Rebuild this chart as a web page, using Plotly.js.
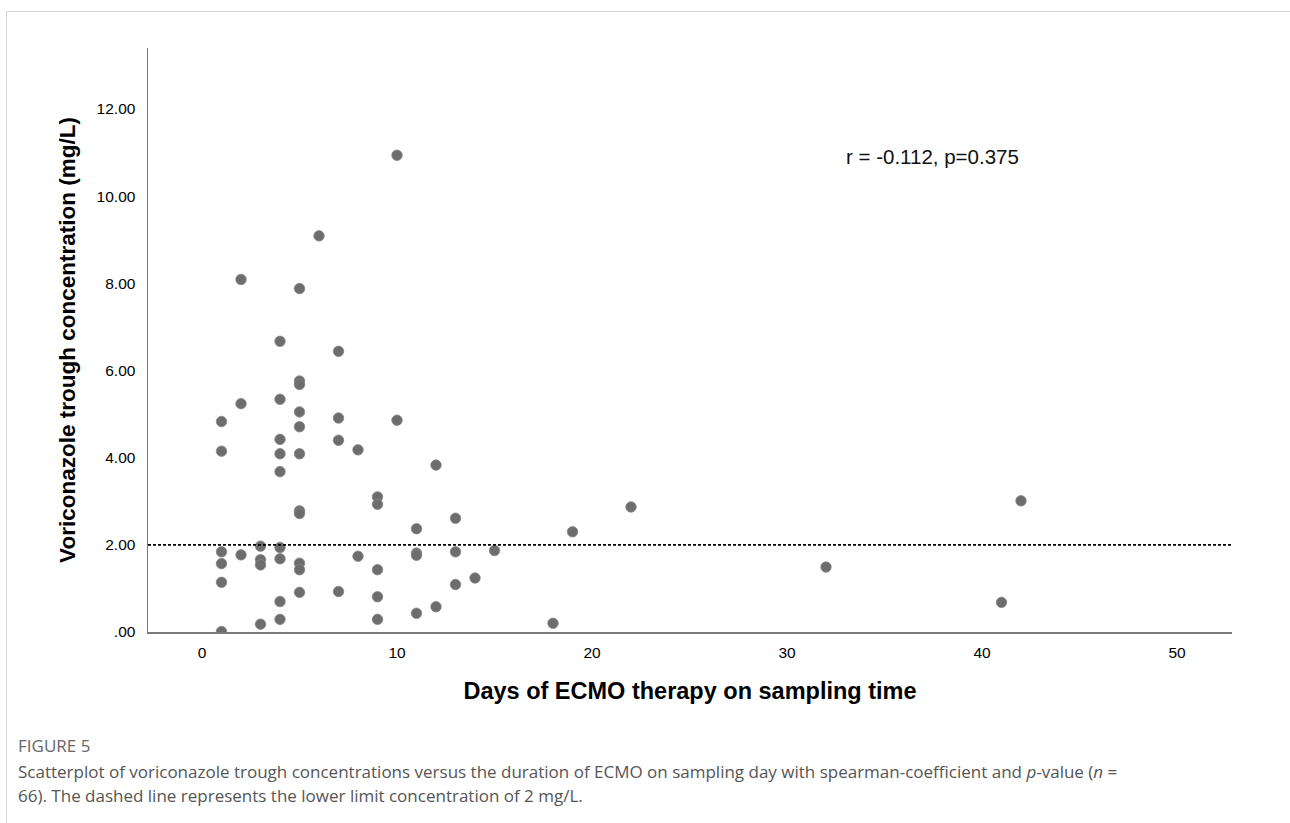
<!DOCTYPE html>
<html>
<head>
<meta charset="utf-8">
<script src="https://cdn.plot.ly/plotly-3.0.1.min.js"></script>
<style>
  html, body { margin: 0; padding: 0; background: #fff; }
  #frame { position: absolute; left: 6px; top: 11px; width: 1290px; height: 820px;
           border-top: 1.5px solid #d6d6d6; border-left: 1.5px solid #d6d6d6; }
  #chart { position: absolute; left: 0; top: 0; width: 1290px; height: 823px; }
</style>
</head>
<body>
<div id="frame"></div>
<div id="chart"></div>
<script>
// Days of ECMO therapy on sampling day
const days = [
  1, 1, 1, 1, 1, 1,
  2, 2, 2,
  3, 3, 3, 3,
  4, 4, 4, 4, 4, 4, 4, 4, 4,
  5, 5, 5, 5, 5, 5, 5, 5, 5, 5, 5,
  6,
  7, 7, 7, 7,
  8, 8,
  9, 9, 9, 9, 9,
  10, 10,
  11, 11, 11, 11,
  12, 12,
  13, 13, 13,
  14, 15, 18, 19, 22, 32, 41, 42
];
// Voriconazole trough concentration (mg/L)
const conc = [
  4.83, 4.15, 1.84, 1.57, 1.14, 0.01,
  8.09, 5.24, 1.77,
  1.97, 1.66, 1.54, 0.18,
  6.67, 5.34, 4.42, 4.09, 3.68, 1.94, 1.68, 0.70, 0.29,
  7.88, 5.76, 5.68, 5.05, 4.71, 4.09, 2.78, 2.72, 1.58, 1.43, 0.91,
  9.09,
  6.44, 4.91, 4.40, 0.93,
  4.18, 1.74,
  3.10, 2.93, 1.43, 0.81, 0.29,
  10.94, 4.86,
  2.37, 1.81, 1.76, 0.43,
  3.83, 0.58,
  2.61, 1.84, 1.09,
  1.24, 1.87, 0.20, 2.30, 2.87, 1.49, 0.68, 3.01
];
const xTickVals = [0, 10, 20, 30, 40, 50];
const yTickVals = [0, 2, 4, 6, 8, 10, 12];
const yTickText = [".00", "2.00", "4.00", "6.00", "8.00", "10.00", "12.00"];
const lowerLimit = 2;
const statText = "r = -0.112, p=0.375";
const figLabel = "FIGURE 5";
const caption1 = "Scatterplot of voriconazole trough concentrations versus the duration of ECMO on sampling day with spearman-coefficient and <i>p</i>-value (<i>n</i> =";
const caption2 = "66). The dashed line represents the lower limit concentration of 2 mg/L.";

const trace = {
  type: "scatter",
  mode: "markers",
  x: days,
  y: conc,
  marker: { color: "#6d6d6d", size: 10.5, line: { color: "#858585", width: 0.8 } },
  hoverinfo: "x+y",
  showlegend: false
};

const capX = -0.1218;
const layout = {
  width: 1290,
  height: 823,
  paper_bgcolor: "rgba(0,0,0,0)",
  plot_bgcolor: "rgba(0,0,0,0)",
  margin: { l: 148, r: 58, t: 48, b: 191 },
  font: { family: "Liberation Sans, Arial, sans-serif", color: "#111" },
  xaxis: {
    range: [-2.77, 52.82],
    tickvals: xTickVals,
    ticks: "",
    showgrid: false,
    zeroline: false,
    showline: true,
    linecolor: "#7a7a7a",
    linewidth: 1.5,
    tickfont: { size: 15.5, color: "#000" },
    ticklabelstandoff: 6,
    title: { text: "<b>Days of ECMO therapy on sampling time</b>", font: { size: 23.5, color: "#000" }, standoff: 22 },
    automargin: false
  },
  yaxis: {
    range: [0, 13.4],
    tickvals: yTickVals,
    ticktext: yTickText,
    ticks: "",
    showgrid: false,
    zeroline: false,
    showline: true,
    linecolor: "#7a7a7a",
    linewidth: 1.5,
    tickfont: { size: 15.5, color: "#000" },
    ticklabelstandoff: 8,
    title: { text: "<b>Voriconazole trough concentration (mg/L)</b>", font: { size: 22.5, color: "#000" }, standoff: 14 },
    automargin: false
  },
  shapes: [{
    type: "line",
    xref: "paper", x0: 0, x1: 1,
    yref: "y", y0: lowerLimit, y1: lowerLimit,
    line: { color: "#000", width: 1.6, dash: "3px,2px" }
  }],
  annotations: [
    {
      text: statText, xref: "x", yref: "y", x: 37.44, y: 10.9,
      showarrow: false, font: { size: 20.5, color: "#111" }, xanchor: "center", yanchor: "middle"
    },
    {
      text: figLabel, xref: "paper", yref: "paper", x: capX, y: -0.1935,
      xanchor: "left", yanchor: "middle", showarrow: false,
      font: { family: "Open Sans, Noto Sans, sans-serif", size: 17, color: "#666" }
    },
    {
      text: caption1, xref: "paper", yref: "paper", x: capX, y: -0.2397,
      xanchor: "left", yanchor: "middle", showarrow: false,
      font: { family: "Open Sans, Noto Sans, sans-serif", size: 17, color: "#555" }
    },
    {
      text: caption2, xref: "paper", yref: "paper", x: capX, y: -0.2808,
      xanchor: "left", yanchor: "middle", showarrow: false,
      font: { family: "Open Sans, Noto Sans, sans-serif", size: 17, color: "#555" }
    }
  ]
};

Plotly.newPlot("chart", [trace], layout, { displayModeBar: false, staticPlot: true });
</script>
</body>
</html>
